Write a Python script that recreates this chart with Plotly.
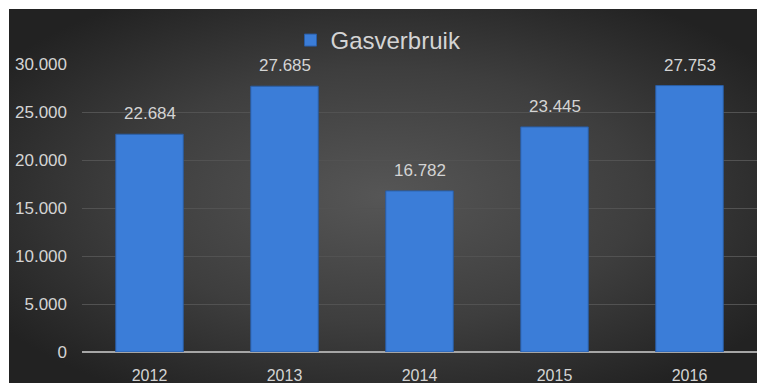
import base64
import plotly.graph_objects as go

# Yearly gas consumption
years = ["2012", "2013", "2014", "2015", "2016"]
gasverbruik = [22684, 27685, 16782, 23445, 27753]
y_ticks = [0, 5000, 10000, 15000, 20000, 25000, 30000]

W, H = 757, 383
FONT = "Liberation Sans, Arial, sans-serif"
TEXT = "#d4d4d4"

# Dark radial background for the chart area
svg = (
    '<svg xmlns="http://www.w3.org/2000/svg" width="748" height="374" preserveAspectRatio="none">'
    '<defs><radialGradient id="g" cx="50%" cy="50%" r="62%">'
    '<stop offset="0%" stop-color="#565656"/>'
    '<stop offset="55%" stop-color="#3e3e3e"/>'
    '<stop offset="100%" stop-color="#222222"/>'
    '</radialGradient></defs>'
    '<rect width="748" height="374" fill="url(#g)"/></svg>'
)
bg_src = "data:image/svg+xml;base64," + base64.b64encode(svg.encode()).decode()

fig = go.Figure()
fig.add_trace(go.Bar(
    x=years,
    y=gasverbruik,
    name="Gasverbruik",
    marker=dict(color="#3b7dd8", line=dict(color="#2a5da4", width=1)),
    showlegend=True,
    hoverinfo="skip",
))

# Value labels above each bar (category index keeps numeric-looking years as categories)
for i, v in enumerate(gasverbruik):
    fig.add_annotation(
        x=i, y=v, text=f"{v:,}".replace(",", "."),
        showarrow=False, yanchor="bottom", yshift=9,
        font=dict(family=FONT, size=17, color=TEXT),
    )

fig.update_layout(
    width=W, height=H,
    margin=dict(l=82, r=0, t=64, b=31, autoexpand=False),
    paper_bgcolor="white",
    plot_bgcolor="rgba(0,0,0,0)",
    separators=",.",
    bargap=0.5,
    font=dict(family=FONT, color=TEXT),
    images=[dict(
        source=bg_src, xref="paper", yref="paper",
        x=-73 / 675, y=1 + 55 / 288, sizex=748 / 675, sizey=374 / 288,
        xanchor="left", yanchor="top", sizing="stretch", layer="below",
    )],
    legend=dict(
        orientation="h", x=0.5, xanchor="center", xref="container",
        y=1 - 18 / H, yanchor="top", yref="container",
        font=dict(family=FONT, size=24, color=TEXT),
        bgcolor="rgba(0,0,0,0)",
    ),
    xaxis=dict(
        type="category", range=[-0.5, len(years) - 0.5],
        showgrid=False, showline=False, ticks="", zeroline=False,
        tickfont=dict(family=FONT, size=16, color=TEXT),
        ticklabelstandoff=12,
    ),
    yaxis=dict(
        range=[0, 30000], tickvals=y_ticks, tickformat=",d",
        showgrid=True, gridcolor="#525252", gridwidth=1,
        zeroline=True, zerolinecolor="#a6a6a6", zerolinewidth=2,
        showline=False, ticks="",
        tickfont=dict(family=FONT, size=17, color=TEXT),
        ticklabelstandoff=14,
    ),
)

fig.write_html("out.html")
